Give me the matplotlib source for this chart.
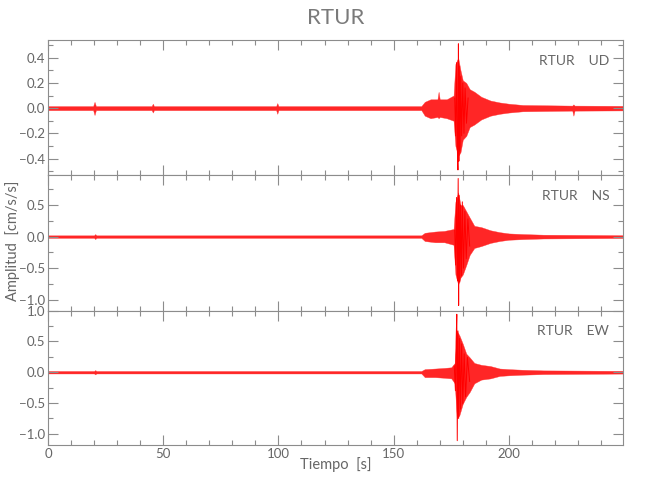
import matplotlib
matplotlib.use("Agg")
import matplotlib.pyplot as plt
from matplotlib.ticker import MultipleLocator

plt.rcParams['font.family'] = ['Lato', 'DejaVu Sans']

# station / components
station = "RTUR"
components = ["UD", "NS", "EW"]

# envelope of each trace (time [s], upper, lower)
t_ud = [0, 19.6, 20.2, 20.8, 45, 45.5, 46, 99, 99.5, 100, 162, 163.5, 166, 169, 169.5, 170,
        173, 176, 176.8, 178, 179, 180, 181.5, 183, 185, 188, 192, 196, 200, 206,
        227.5, 228, 228.5, 250]
up_ud = [.016, .016, .05, .016, .016, .035, .016, .016, .04, .016, .016, .05, .07, .07, .13, .07,
         .07, .10, .35, .40, .30, .22, .20, .15, .13, .09, .06, .045, .035, .025,
         .02, .03, .02, .018]
lo_ud = [-.016, -.016, -.055, -.016, -.016, -.035, -.016, -.016, -.045, -.016, -.016, -.06, -.08, -.07, -.08, -.07,
         -.08, -.10, -.30, -.38, -.35, -.25, -.22, -.15, -.13, -.09, -.06, -.045, -.035, -.025,
         -.02, -.06, -.02, -.018]

t_ns = [0, 20, 20.5, 21, 162, 163.5, 168, 172, 176, 176.8, 178, 179, 180, 181.5, 183,
        185, 188, 192, 196, 200, 206, 215, 250]
up_ns = [.02, .02, .04, .02, .02, .06, .08, .09, .12, .55, .70, .50, .50, .40, .30,
         .17, .15, .10, .07, .05, .04, .03, .022]
lo_ns = [-.02, -.02, -.04, -.02, -.02, -.07, -.09, -.09, -.13, -.60, -.76, -.65, -.60, -.45, -.29,
         -.18, -.15, -.10, -.07, -.05, -.04, -.03, -.022]

t_ew = [0, 20, 20.5, 21, 162, 163.5, 168, 172, 175, 176.5, 177.4, 178.5, 180, 181.5, 183,
        185, 188, 192, 196, 200, 206, 215, 250]
up_ew = [.02, .02, .035, .02, .02, .05, .06, .07, .08, .15, .67, .60, .46, .30, .24,
         .15, .12, .10, .06, .05, .04, .03, .022]
lo_ew = [-.02, -.02, -.035, -.02, -.02, -.08, -.08, -.09, -.10, -.18, -.75, -.70, -.51, -.40, -.32,
         -.18, -.12, -.10, -.06, -.05, -.04, -.03, -.022]

# strongest swings around the main arrival (time [s], amplitude)
zt_ud = [176.5, 176.9, 177.3, 177.6, 177.9, 178.1, 178.3, 178.5, 178.8, 179.1, 179.5, 180.0, 180.5, 181.0, 181.6, 182.3]
zv_ud = [0.08, -0.22, 0.36, -0.30, -0.49, 0.51, -0.42, 0.33, -0.34, 0.25, -0.22, 0.20, -0.20, 0.16, -0.12, 0.08]
zt_ns = [176.5, 176.9, 177.3, 177.7, 178.0, 178.2, 178.4, 178.7, 179.0, 179.4, 179.8, 180.3, 180.9, 181.5, 182.2, 183.0]
zv_ns = [0.10, -0.45, 0.62, -0.70, 0.92, -1.09, 0.65, -0.72, 0.50, -0.62, 0.55, -0.50, 0.40, -0.35, 0.28, -0.15]
zt_ew = [176.3, 176.8, 177.1, 177.4, 177.6, 177.9, 178.2, 178.6, 179.0, 179.5, 180.0, 180.6, 181.2, 182.0, 183.0]
zv_ew = [0.10, -0.30, 0.50, 0.94, -1.11, 0.67, -0.75, 0.55, -0.60, 0.46, -0.51, 0.30, -0.40, 0.24, -0.15]

ylims = [(-0.53, 0.54), (-1.17, 0.975), (-1.18, 1.001)]
ymajor = [0.2, 0.5, 0.5]
yminor = [0.1, 0.25, 0.25]

envs = [(t_ud, up_ud, lo_ud), (t_ns, up_ns, lo_ns), (t_ew, up_ew, lo_ew)]
zigs = [(zt_ud, zv_ud), (zt_ns, zv_ns), (zt_ew, zv_ew)]

gray = '#8c8c8c'
txt = '#666666'

fig = plt.figure(figsize=(6.5, 5), dpi=100)
bottoms = [0.65, 0.379, 0.11]
heights = [0.27, 0.271, 0.269]

for i in range(3):
    ax = fig.add_axes([0.0738, bottoms[i], 0.8846, heights[i]])
    t, up, lo = envs[i]
    ax.fill_between(t, lo, up, color='#ff0000', alpha=0.85, linewidth=0.3, edgecolor='#ff3030')
    ax.plot(zigs[i][0], zigs[i][1], color='#ff0000', lw=0.7)
    ax.set_xlim(0, 249.5)
    ax.set_ylim(*ylims[i])
    ax.xaxis.set_major_locator(MultipleLocator(50))
    ax.xaxis.set_minor_locator(MultipleLocator(10))
    ax.yaxis.set_major_locator(MultipleLocator(ymajor[i]))
    ax.yaxis.set_minor_locator(MultipleLocator(yminor[i]))
    ax.tick_params(which='both', direction='in', top=True, right=True,
                   color=gray, labelcolor=txt, labelsize=9.5, width=0.8, pad=2)
    ax.tick_params(which='major', length=7)
    ax.tick_params(which='minor', length=3.5)
    for s in ax.spines.values():
        s.set_color(gray)
        s.set_linewidth(0.8)
    if i < 2:
        ax.tick_params(labelbottom=False)
    ax.text(0.976, 0.845, station + '    ' + components[i], transform=ax.transAxes,
            ha='right', va='center', color=txt, fontsize=10)

fig.text(0.516, 0.964, station, ha='center', va='center', color='#7a7a7a', fontsize=16)
fig.text(0.517, 0.07, 'Tiempo  [s]', ha='center', va='center', color=txt, fontsize=10.5)
fig.text(0.02, 0.518, 'Amplitud  [cm/s/s]', ha='center', va='center', rotation=90, color=txt, fontsize=10.5)

fig.savefig('out.png', dpi=100)
